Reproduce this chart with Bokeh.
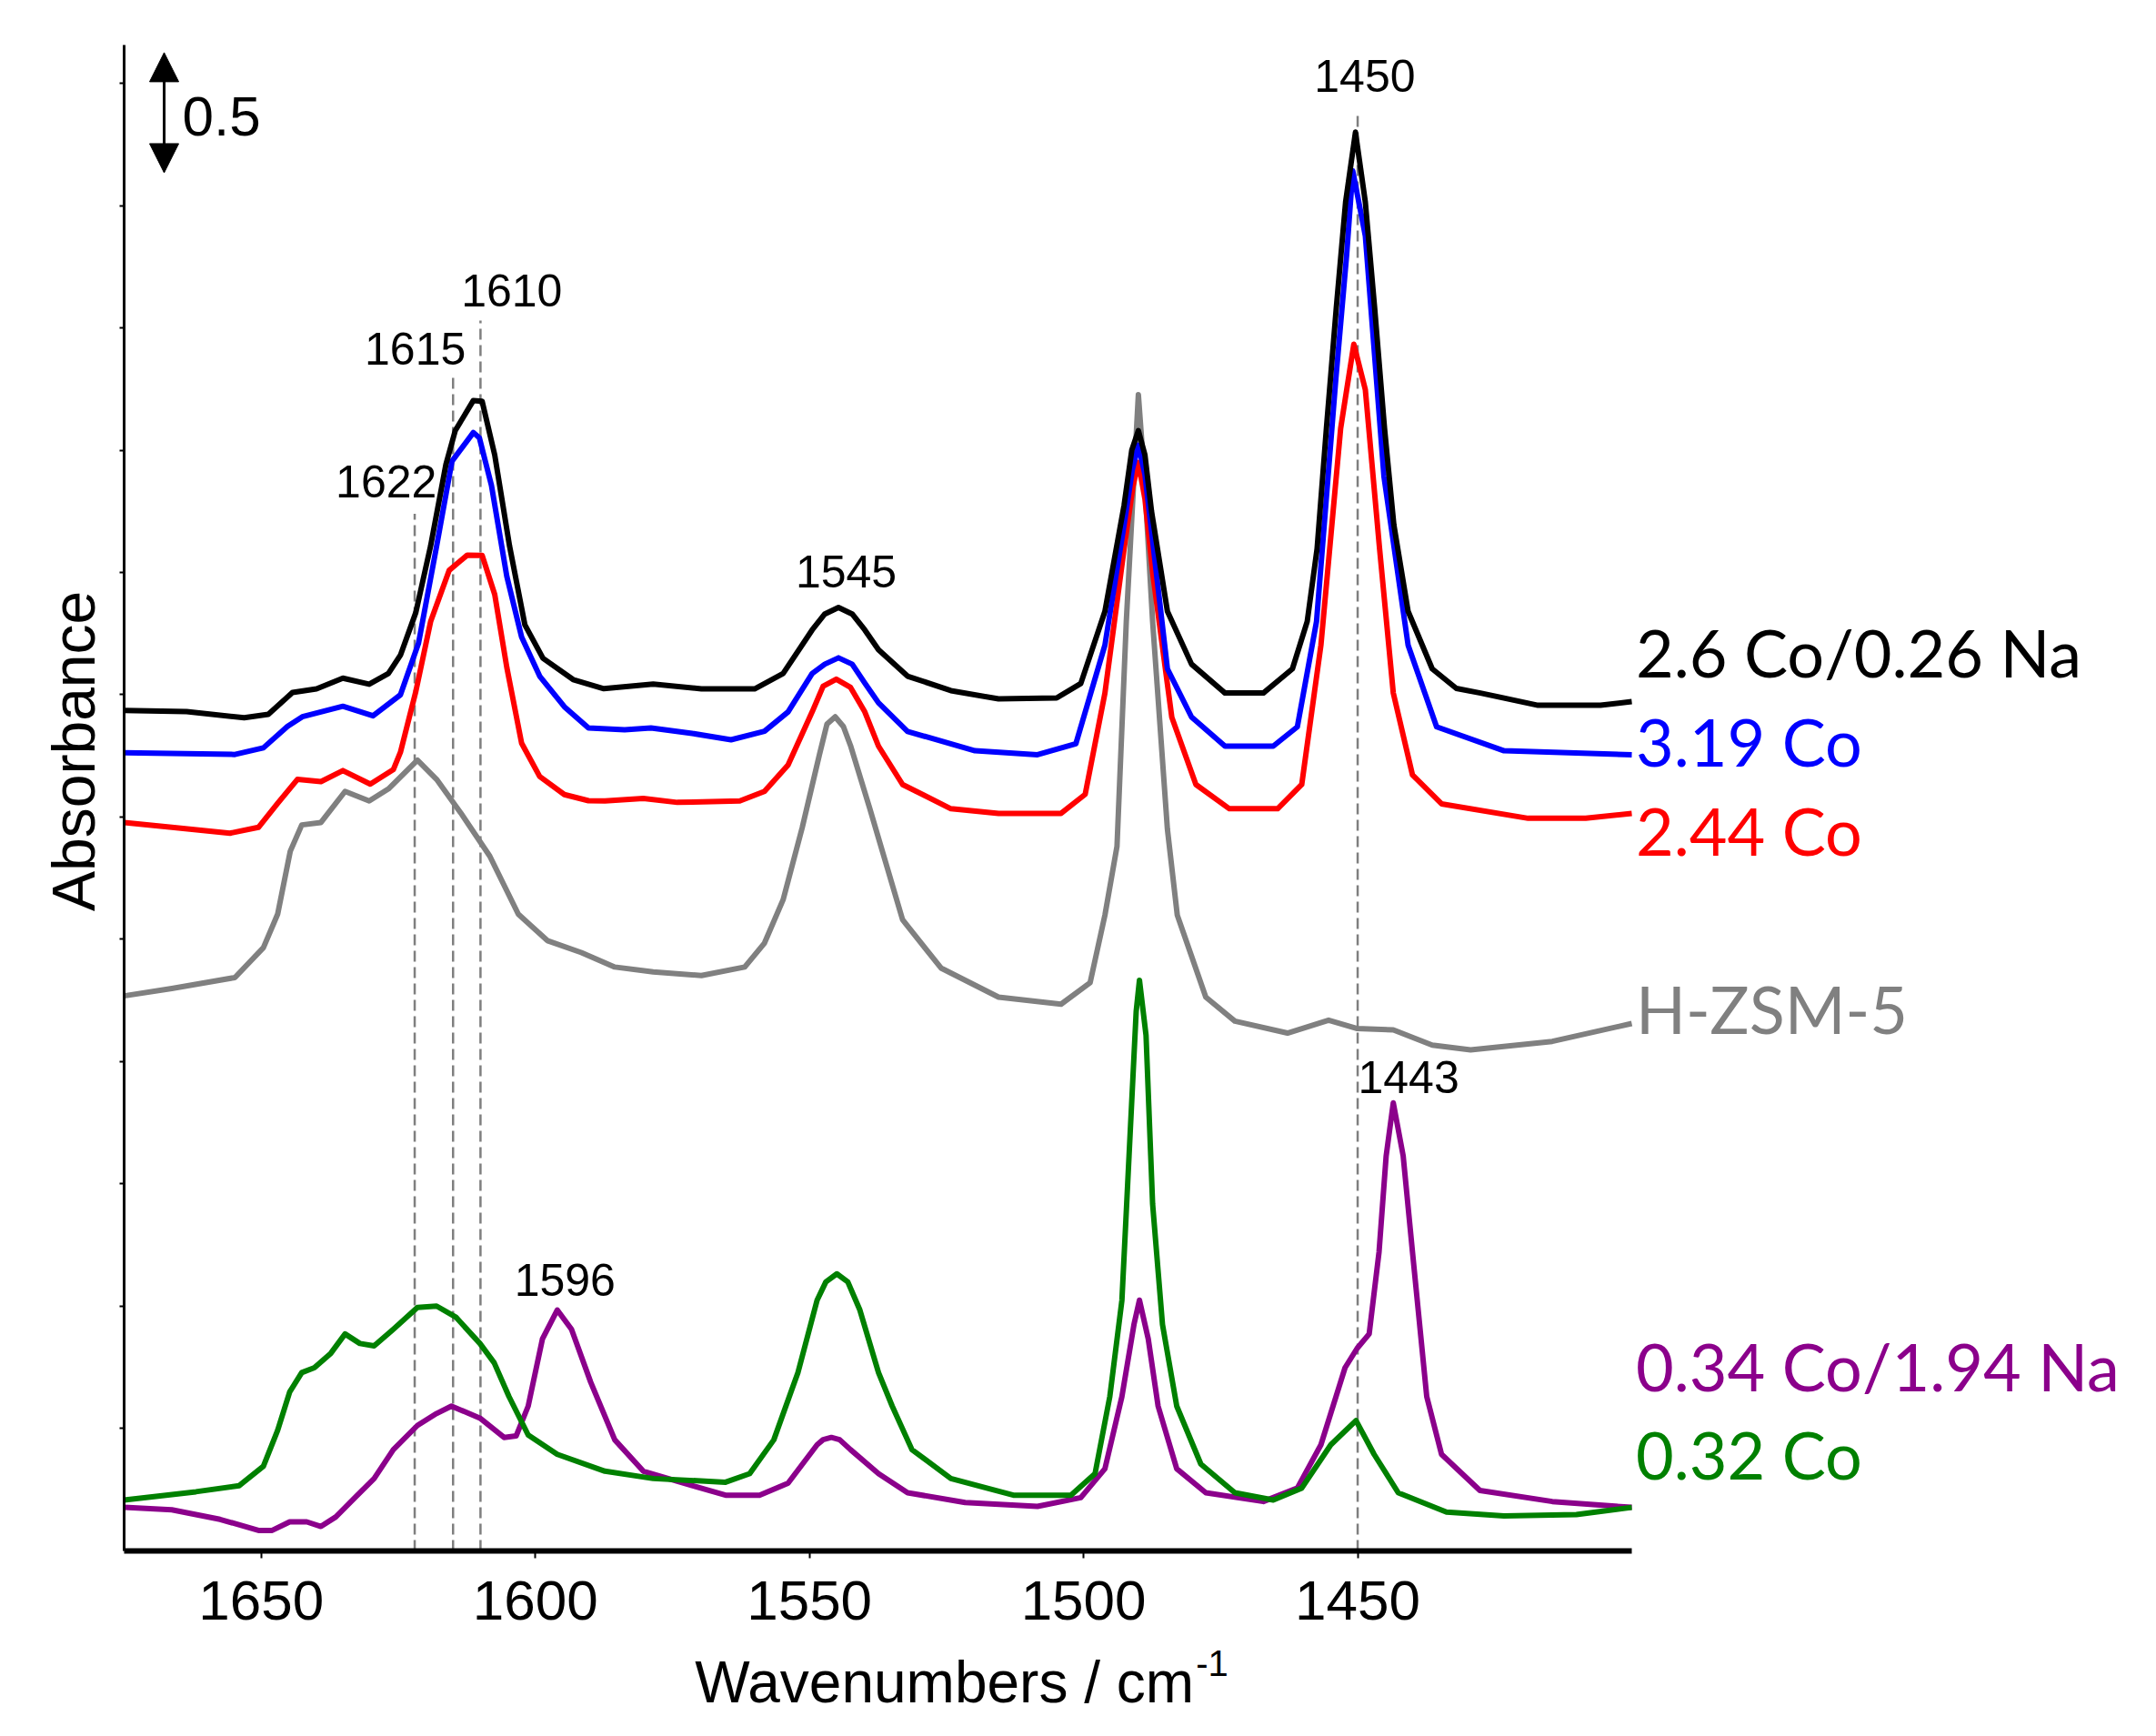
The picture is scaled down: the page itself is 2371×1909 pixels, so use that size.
from math import pi

from bokeh.core.properties import value
from bokeh.embed import file_html
from bokeh.models import (Arrow, CustomJSTickFormatter, FixedTicker, Label, LinearAxis,
                          NormalHead, Range1d)
from bokeh.plotting import figure
from bokeh.resources import INLINE

# FTIR de piridina adsorbida, espectros desplazados verticalmente
wn_co26_na026 = [1675.0, 1663.6, 1653.1, 1648.7, 1644.3, 1639.9, 1635.1, 1630.3, 1626.8, 1624.6,
                 1621.8, 1619.1, 1616.3, 1614.6, 1611.3, 1609.7, 1607.4, 1604.7, 1601.9, 1598.6,
                 1593.1, 1587.5, 1578.5, 1569.7, 1560.0, 1554.8, 1549.5, 1547.2, 1544.7, 1542.2,
                 1539.9, 1537.4, 1532.1, 1524.2, 1515.5, 1504.9, 1500.5, 1496.1, 1492.6, 1491.2,
                 1490.0, 1488.8, 1487.6, 1484.7, 1480.3, 1474.2, 1467.2, 1461.9, 1459.2, 1457.4,
                 1455.7, 1453.9, 1452.2, 1450.4, 1448.6, 1446.9, 1445.1, 1443.4, 1440.8, 1436.4,
                 1432.0, 1427.6, 1417.1, 1405.7, 1400.0]
ab_co26_na026 = [3.436, 3.431, 3.406, 3.420, 3.509, 3.524, 3.568, 3.543, 3.587, 3.662,
                 3.836, 4.108, 4.442, 4.580, 4.703, 4.700, 4.480, 4.108, 3.786, 3.649,
                 3.562, 3.525, 3.544, 3.524, 3.524, 3.587, 3.765, 3.830, 3.857, 3.830,
                 3.765, 3.684, 3.576, 3.517, 3.483, 3.487, 3.546, 3.841, 4.275, 4.500,
                 4.580, 4.480, 4.250, 3.841, 3.625, 3.507, 3.507, 3.606, 3.800, 4.097,
                 4.589, 5.081, 5.514, 5.800, 5.514, 5.081, 4.589, 4.195, 3.841, 3.606,
                 3.526, 3.507, 3.457, 3.457, 3.472]

wn_co319 = [1675.0, 1654.8, 1649.6, 1645.2, 1642.5, 1635.1, 1629.6, 1624.6, 1621.3, 1618.0,
            1615.2, 1611.3, 1610.2, 1608.0, 1605.2, 1602.5, 1599.2, 1594.7, 1590.3, 1583.7,
            1578.9, 1571.4, 1564.3, 1558.2, 1553.9, 1549.5, 1547.2, 1544.7, 1542.2, 1539.9,
            1537.4, 1532.1, 1519.8, 1508.4, 1501.4, 1496.1, 1492.6, 1491.1, 1490.0, 1488.8,
            1487.5, 1484.7, 1480.3, 1474.2, 1465.4, 1461.0, 1457.5, 1454.0, 1452.0, 1450.9,
            1448.6, 1445.2, 1440.8, 1435.6, 1423.3, 1400.0]
ab_co319 = [3.263, 3.256, 3.283, 3.371, 3.410, 3.453, 3.414, 3.500, 3.711, 4.108,
            4.455, 4.572, 4.550, 4.356, 3.984, 3.736, 3.576, 3.451, 3.364, 3.357,
            3.364, 3.342, 3.316, 3.351, 3.430, 3.587, 3.625, 3.651, 3.625, 3.548,
            3.467, 3.350, 3.271, 3.255, 3.300, 3.703, 4.195, 4.420, 4.520, 4.400,
            4.150, 3.606, 3.409, 3.290, 3.290, 3.369, 3.800, 4.786, 5.300, 5.642,
            5.376, 4.392, 3.703, 3.369, 3.271, 3.255]

wn_co244 = [1675.0, 1666.3, 1655.7, 1650.5, 1647.0, 1643.4, 1639.1, 1635.1, 1630.1, 1625.9,
            1624.6, 1621.8, 1619.1, 1615.7, 1612.4, 1609.7, 1607.4, 1605.2, 1602.5, 1599.2,
            1594.7, 1590.3, 1587.3, 1580.3, 1574.1, 1562.7, 1558.2, 1553.9, 1549.5, 1547.5,
            1545.1, 1542.5, 1539.9, 1537.4, 1533.0, 1524.2, 1515.5, 1504.1, 1499.7, 1496.1,
            1492.6, 1491.0, 1490.0, 1488.8, 1487.4, 1483.9, 1479.5, 1473.4, 1464.6, 1460.2,
            1456.7, 1453.1, 1450.7, 1448.6, 1446.0, 1443.5, 1440.0, 1434.7, 1418.9, 1408.4,
            1400.0]
ab_co244 = [2.978, 2.958, 2.934, 2.958, 3.056, 3.154, 3.145, 3.190, 3.135, 3.194,
            3.265, 3.513, 3.799, 4.009, 4.071, 4.070, 3.910, 3.612, 3.302, 3.166,
            3.092, 3.067, 3.066, 3.076, 3.060, 3.066, 3.105, 3.213, 3.430, 3.535,
            3.564, 3.530, 3.430, 3.290, 3.133, 3.034, 3.015, 3.015, 3.093, 3.507,
            4.097, 4.350, 4.450, 4.300, 4.000, 3.408, 3.133, 3.034, 3.034, 3.133,
            3.703, 4.589, 4.933, 4.747, 4.097, 3.507, 3.172, 3.054, 2.995, 2.995,
            3.015]

wn_hzsm5 = [1675.0, 1666.3, 1654.8, 1649.6, 1647.0, 1644.7, 1642.6, 1639.1, 1634.7, 1630.3,
            1626.8, 1621.5, 1618.0, 1613.6, 1608.3, 1603.1, 1597.8, 1591.6, 1585.5, 1578.5,
            1569.7, 1561.8, 1558.2, 1554.8, 1551.3, 1548.2, 1546.8, 1545.3, 1543.8, 1542.5,
            1539.0, 1537.4, 1533.0, 1526.0, 1515.5, 1504.1, 1498.8, 1496.1, 1493.9, 1492.2,
            1490.8, 1490.0, 1488.9, 1487.4, 1484.7, 1482.9, 1477.7, 1472.4, 1462.8, 1455.3,
            1450.2, 1443.5, 1436.4, 1429.4, 1414.5, 1400.0]
ab_hzsm5 = [2.269, 2.299, 2.344, 2.466, 2.603, 2.860, 2.968, 2.978, 3.105, 3.066,
            3.115, 3.233, 3.154, 3.017, 2.840, 2.603, 2.495, 2.446, 2.387, 2.367,
            2.352, 2.387, 2.485, 2.662, 2.958, 3.253, 3.380, 3.410, 3.370, 3.292,
            3.036, 2.914, 2.580, 2.383, 2.264, 2.235, 2.323, 2.599, 2.880, 3.800,
            4.390, 4.727, 4.390, 3.800, 2.950, 2.599, 2.264, 2.166, 2.117, 2.170,
            2.136, 2.130, 2.068, 2.048, 2.083, 2.156]

wn_co034_na194 = [1675.0, 1666.3, 1657.5, 1650.5, 1648.0, 1644.8, 1641.7, 1639.1, 1636.4, 1632.9,
                  1629.4, 1625.9, 1621.5, 1618.0, 1615.3, 1610.1, 1605.7, 1603.5, 1601.3, 1598.7,
                  1596.0, 1593.4, 1589.9, 1585.5, 1580.3, 1571.4, 1565.3, 1559.1, 1553.9, 1548.6,
                  1547.5, 1546.0, 1544.5, 1542.5, 1537.4, 1532.1, 1521.6, 1508.4, 1500.5, 1496.1,
                  1493.0, 1490.8, 1489.8, 1488.2, 1486.4, 1483.0, 1477.7, 1467.2, 1461.0, 1456.7,
                  1452.3, 1450.1, 1447.9, 1446.1, 1444.8, 1443.5, 1441.7, 1440.0, 1437.4, 1434.7,
                  1427.7, 1414.5, 1400.0]
ab_co034_na194 = [0.178, 0.168, 0.129, 0.084, 0.084, 0.119, 0.119, 0.100, 0.139, 0.218,
                  0.296, 0.414, 0.513, 0.562, 0.592, 0.543, 0.464, 0.470, 0.592, 0.867,
                  0.985, 0.906, 0.690, 0.454, 0.326, 0.267, 0.228, 0.228, 0.277, 0.434,
                  0.455, 0.464, 0.455, 0.414, 0.316, 0.238, 0.198, 0.182, 0.218, 0.336,
                  0.631, 0.926, 1.025, 0.867, 0.592, 0.336, 0.238, 0.202, 0.257, 0.434,
                  0.749, 0.828, 0.887, 1.222, 1.615, 1.832, 1.615, 1.222, 0.631, 0.395,
                  0.247, 0.202, 0.178]

wn_co032 = [1675.0, 1661.9, 1654.0, 1649.6, 1647.0, 1644.8, 1642.6, 1640.3, 1637.3, 1634.7,
            1632.0, 1629.4, 1625.9, 1621.5, 1618.0, 1614.5, 1610.1, 1607.5, 1604.8, 1601.3,
            1596.0, 1587.3, 1578.5, 1565.3, 1560.9, 1556.5, 1552.1, 1548.6, 1547.0, 1545.0,
            1543.0, 1540.8, 1537.4, 1534.9, 1531.3, 1524.2, 1512.8, 1502.3, 1497.9, 1495.2,
            1493.0, 1491.7, 1490.4, 1489.8, 1488.6, 1487.4, 1485.6, 1483.0, 1478.6, 1472.4,
            1465.4, 1460.2, 1454.9, 1450.3, 1447.0, 1442.6, 1433.8, 1423.3, 1410.1, 1400.0]
ab_co032 = [0.208, 0.242, 0.267, 0.346, 0.493, 0.650, 0.729, 0.749, 0.808, 0.887,
            0.848, 0.838, 0.906, 0.995, 1.001, 0.956, 0.848, 0.769, 0.631, 0.474,
            0.395, 0.326, 0.296, 0.281, 0.316, 0.454, 0.729, 1.025, 1.100, 1.133,
            1.100, 0.985, 0.729, 0.592, 0.414, 0.296, 0.228, 0.228, 0.316, 0.632,
            1.025, 1.615, 2.205, 2.333, 2.107, 1.418, 0.926, 0.592, 0.355, 0.238,
            0.208, 0.257, 0.434, 0.533, 0.395, 0.238, 0.159, 0.143, 0.149, 0.178]

series_names = ["2.6 Co/0.26 Na", "3.19 Co", "2.44 Co", "H-ZSM-5", "0.34 Co/1.94 Na", "0.32 Co"]
series_colors = ["#000000", "#0000ff", "#ff0000", "#808080", "#8b008b", "#008000"]
series_label_y = [3.675, 3.311, 2.946, 2.218, 0.755, 0.396]

peak_lines = [1622, 1615, 1610, 1450]
peak_line_top = [4.24, 4.81, 5.03, 5.88]
peak_text = ["1622", "1615", "1610", "1545", "1450", "1596", "1443"]
peak_text_x = [1627.2, 1621.9, 1604.3, 1543.3, 1448.7, 1594.6, 1440.7]
peak_text_y = [4.37, 4.914, 5.154, 4.005, 6.03, 1.108, 1.937]

x_ticks = [1650, 1600, 1550, 1500, 1450]
y_ticks = [0.5, 1.0, 1.5, 2.0, 2.5, 3.0, 3.5, 4.0, 4.5, 5.0, 5.5, 6.0]

arial = "Liberation Sans"
calibri = "Lato"

# el marco ocupa todo el lienzo; los ejes se fijan en x=1675 e y=0 y se acotan al area de datos
p = figure(width=2355, height=1893, x_range=Range1d(1697.56, 1306.95),
           y_range=Range1d(-0.6989, 6.3383), output_backend="svg", toolbar_location=None,
           x_axis_location=None, y_axis_location=None, min_border=0)
p.title.visible = False
p.grid.visible = False
p.outline_line_color = None

xaxis = LinearAxis(fixed_location=0, bounds=(1400, 1675), ticker=FixedTicker(ticks=x_ticks))
xaxis.axis_line_width = 6
xaxis.major_tick_out = 8
xaxis.major_tick_in = 0
xaxis.major_tick_line_width = 2
xaxis.minor_tick_out = 0
xaxis.minor_tick_in = 0
xaxis.major_label_standoff = 26
xaxis.major_label_text_font = arial
xaxis.major_label_text_font_size = "62px"
xaxis.major_label_text_color = "black"
p.add_layout(xaxis, "below")

yaxis = LinearAxis(fixed_location=1675, bounds=(0, 6.156), ticker=FixedTicker(ticks=y_ticks))
yaxis.formatter = CustomJSTickFormatter(code="return ''")
yaxis.major_label_text_font_size = "1px"
yaxis.major_label_standoff = 0
yaxis.axis_line_width = 3
yaxis.major_tick_out = 5
yaxis.major_tick_in = 0
yaxis.major_tick_line_width = 2
yaxis.minor_tick_out = 0
yaxis.minor_tick_in = 0
p.add_layout(yaxis, "left")

# lineas punteadas de referencia
p.segment(x0=peak_lines, y0=[0] * len(peak_lines), x1=peak_lines, y1=peak_line_top,
          line_color="#7f7f7f", line_width=2.5, line_dash="12 6")

curves = [(wn_co26_na026, ab_co26_na026), (wn_co319, ab_co319), (wn_co244, ab_co244),
          (wn_hzsm5, ab_hzsm5), (wn_co034_na194, ab_co034_na194), (wn_co032, ab_co032)]
for i in [3, 2, 1, 0, 4, 5]:
    wn, ab = curves[i]
    p.line(wn, ab, line_color=series_colors[i], line_width=6, line_join="round")

p.text(x=peak_text_x, y=peak_text_y, text=peak_text, text_font=value(arial),
       text_font_size="50px", text_align="center", text_baseline="alphabetic", text_color="black")

# nombres de las muestras a la derecha
p.text(x=[1399.25] * len(series_names), y=series_label_y, text=series_names,
       text_color=series_colors, text_font=value(calibri), text_font_size="72px",
       text_align="left", text_baseline="alphabetic")

# barra de escala
p.add_layout(Arrow(x_start=1667.7, y_start=5.634, x_end=1667.7, y_end=6.125, line_width=3,
                   start=NormalHead(size=32, fill_color="black", line_color="black"),
                   end=NormalHead(size=32, fill_color="black", line_color="black")))
p.add_layout(Label(x=1664.4, y=5.866, text="0.5", text_font=arial, text_font_size="62px",
                   text_color="black", text_align="left", text_baseline="alphabetic"))

# titulos de los ejes
p.text(x=[1684.29], y=[3.27], text=["Absorbance"], angle=pi / 2, text_font=value(arial),
       text_font_size="66px", text_align="center", text_baseline="middle", text_color="black")
p.text(x=[1479.85], y=[-0.539], text=["Wavenumbers / cm"], text_font=value(arial),
       text_font_size="64px", text_align="right", text_baseline="middle", text_color="black")
p.text(x=[1479.5], y=[-0.46], text=["-1"], text_font=value(arial),
       text_font_size="40px", text_align="left", text_baseline="middle", text_color="black")

open("out.html", "w").write(file_html(p, INLINE))
